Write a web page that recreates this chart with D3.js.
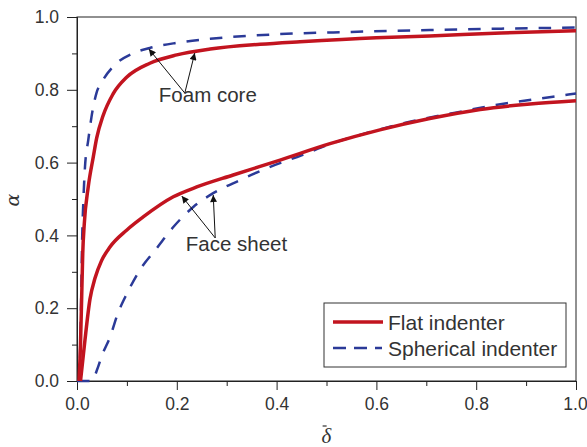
<!DOCTYPE html>
<html>
<head>
<meta charset="utf-8">
<script src="https://cdn.jsdelivr.net/npm/d3@7"></script>
<style>
  body { margin: 0; background: #fff; }
  svg { display: block; }
  .axis text { font-family: "Liberation Sans", Arial, sans-serif; font-size: 17.5px; fill: #333; }
  .axis path, .axis line { stroke: #222; stroke-width: 1; }
</style>
</head>
<body>
<script>
// data: [delta, alpha]
var foamFlat = [[0.004,0],[0.007,0.1],[0.0094,0.232],[0.0115,0.35],[0.0145,0.43],[0.0226,0.534],[0.0327,0.616],
    [0.0395,0.668],[0.052,0.728],[0.072,0.788],[0.1,0.835],[0.146,0.873],[0.2,0.896],[0.267,0.912],
    [0.367,0.925],[0.447,0.932],[0.6,0.943],[0.707,0.948],[0.85,0.956],[1.0,0.962]];
var foamSpherical = [[0.005,0],[0.008,0.2],[0.0105,0.4],[0.0126,0.489],[0.016,0.588],[0.0226,0.662],
    [0.029,0.725],[0.039,0.791],[0.05,0.822],[0.072,0.863],[0.112,0.9],[0.146,0.915],[0.2,0.929],
    [0.267,0.94],[0.407,0.953],[0.55,0.959],[0.707,0.964],[0.85,0.968],[1.0,0.971]];
var faceFlat = [[0.007,0],[0.011,0.05],[0.016,0.113],[0.026,0.225],[0.036,0.282],[0.049,0.33],
    [0.066,0.368],[0.1,0.415],[0.132,0.45],[0.193,0.506],[0.24,0.533],[0.313,0.566],[0.407,0.607],
    [0.507,0.652],[0.607,0.69],[0.707,0.721],[0.808,0.746],[0.908,0.761],[1.0,0.77]];
var faceSpherical = [[0,0],[0.03,0],[0.04,0.03],[0.05,0.07],[0.066,0.12],[0.082,0.186],[0.1,0.24],
    [0.126,0.305],[0.16,0.365],[0.193,0.423],[0.233,0.478],[0.273,0.516],[0.327,0.552],[0.381,0.585],
    [0.45,0.62],[0.52,0.657],[0.567,0.676],[0.667,0.712],[0.761,0.738],[0.861,0.763],[0.954,0.781],[1.0,0.79]];

var xTicks = [0, 0.2, 0.4, 0.6, 0.8, 1.0];
var yTicks = [0, 0.2, 0.4, 0.6, 0.8, 1.0];
var minorTicks = [0.1, 0.3, 0.5, 0.7, 0.9];

var seriesNames = ["Flat indenter", "Spherical indenter"];

// annotations in data units: label position, arrow start, arrow tips
var notes = [
    {text: "Foam core", at: [0.164, 0.766], from: [0.216, 0.791], tips: [[0.144, 0.912], [0.236, 0.901]]},
    {text: "Face sheet", at: [0.218, 0.357], from: [0.277, 0.393], tips: [[0.210, 0.508], [0.273, 0.511]]}
];

var width = 587, height = 447;
var margin = {left: 77, top: 17, right: 11, bottom: 66};
var w = width - margin.left - margin.right,
    h = height - margin.top - margin.bottom;

var red = "#c2141f", blue = "#2b3a98";

var svg = d3.select("body").append("svg")
    .attr("width", width)
    .attr("height", height);

svg.append("defs").append("marker")
    .attr("id", "arrow")
    .attr("viewBox", "0 0 10 10")
    .attr("refX", 10).attr("refY", 5)
    .attr("markerWidth", 9).attr("markerHeight", 7)
    .attr("markerUnits", "userSpaceOnUse")
    .attr("orient", "auto")
    .append("path")
    .attr("d", "M0,0 L10,5 L0,10 z")
    .attr("fill", "#111");

var g = svg.append("g")
    .attr("transform", "translate(" + margin.left + "," + margin.top + ")");

var x = d3.scaleLinear().domain([0, 1]).range([0, w]);
var y = d3.scaleLinear().domain([0, 1]).range([h, 0]);

// frame (top and right, no ticks)
g.append("rect")
    .attr("width", w).attr("height", h)
    .attr("fill", "none").attr("stroke", "#222");

var xAxis = g.append("g").attr("class", "axis")
    .attr("transform", "translate(0," + h + ")")
    .call(d3.axisBottom(x).tickValues(xTicks).tickFormat(d3.format(".1f")).tickSize(9).tickPadding(8));
// keep the last label inside the picture
xAxis.selectAll(".tick:last-of-type text").attr("dx", "-1px");
g.append("g").attr("class", "axis")
    .attr("transform", "translate(0," + h + ")")
    .call(d3.axisBottom(x).tickValues(minorTicks).tickFormat("").tickSize(5));

g.append("g").attr("class", "axis")
    .call(d3.axisLeft(y).tickValues(yTicks).tickFormat(d3.format(".1f")).tickSize(10).tickPadding(8));
g.append("g").attr("class", "axis")
    .call(d3.axisLeft(y).tickValues(minorTicks).tickFormat("").tickSize(5));

var line = d3.line()
    .x(function(d) { return x(d[0]); })
    .y(function(d) { return y(d[1]); })
    .curve(d3.curveMonotoneX);

var curves = g.append("g");

[faceSpherical, foamSpherical].forEach(function(s) {
    curves.append("path").datum(s)
        .attr("d", line)
        .attr("fill", "none")
        .attr("stroke", blue)
        .attr("stroke-width", 2.5)
        .attr("stroke-dasharray", "12.5,11");
});
[faceFlat, foamFlat].forEach(function(s) {
    curves.append("path").datum(s)
        .attr("d", line)
        .attr("fill", "none")
        .attr("stroke", red)
        .attr("stroke-width", 3.5);
});

// annotations
notes.forEach(function(n) {
    n.tips.forEach(function(t) {
        g.append("line")
            .attr("x1", x(n.from[0])).attr("y1", y(n.from[1]))
            .attr("x2", x(t[0])).attr("y2", y(t[1]))
            .attr("stroke", "#111").attr("stroke-width", 1)
            .attr("marker-end", "url(#arrow)");
    });
    g.append("text")
        .attr("x", x(n.at[0])).attr("y", y(n.at[1]))
        .attr("font-family", "Liberation Sans, Arial, sans-serif")
        .attr("font-size", 20.5)
        .attr("fill", "#333")
        .text(n.text);
});

// legend
var lg = g.append("g").attr("transform", "translate(" + (w - 252) + "," + (h - 78) + ")");
lg.append("rect")
    .attr("width", 242).attr("height", 64)
    .attr("fill", "#fff").attr("stroke", "#333").attr("stroke-width", 1);
seriesNames.forEach(function(name, i) {
    var yy = 19 + i * 26;
    lg.append("line")
        .attr("x1", 9).attr("x2", i ? 58 : 59)
        .attr("y1", yy).attr("y2", yy)
        .attr("stroke", i ? blue : red)
        .attr("stroke-width", i ? 2.5 : 3.5)
        .attr("stroke-dasharray", i ? "13,8" : null);
    lg.append("text")
        .attr("x", 64).attr("y", yy + 7.5)
        .attr("font-family", "Liberation Sans, Arial, sans-serif")
        .attr("font-size", 21)
        .attr("fill", "#333")
        .text(name);
});

// axis titles
svg.append("text")
    .attr("transform", "translate(19,200) rotate(-90)")
    .attr("text-anchor", "middle")
    .attr("font-family", "DejaVu Serif, Liberation Serif, serif")
    .attr("font-style", "italic")
    .attr("font-size", 19)
    .attr("fill", "#333")
    .text("α");

var dl = svg.append("text")
    .attr("x", margin.left + w / 2).attr("y", 443)
    .attr("text-anchor", "middle")
    .attr("font-family", "Liberation Serif, DejaVu Serif, serif")
    .attr("font-style", "italic")
    .attr("font-size", 21)
    .attr("fill", "#333")
    .text("δ");
// bar over delta
var bb = dl.node().getBBox();
svg.append("line")
    .attr("x1", bb.x + 1).attr("x2", bb.x + 5)
    .attr("y1", bb.y + 2).attr("y2", bb.y + 2)
    .attr("stroke", "#333").attr("stroke-width", 1.2);
</script>
</body>
</html>
